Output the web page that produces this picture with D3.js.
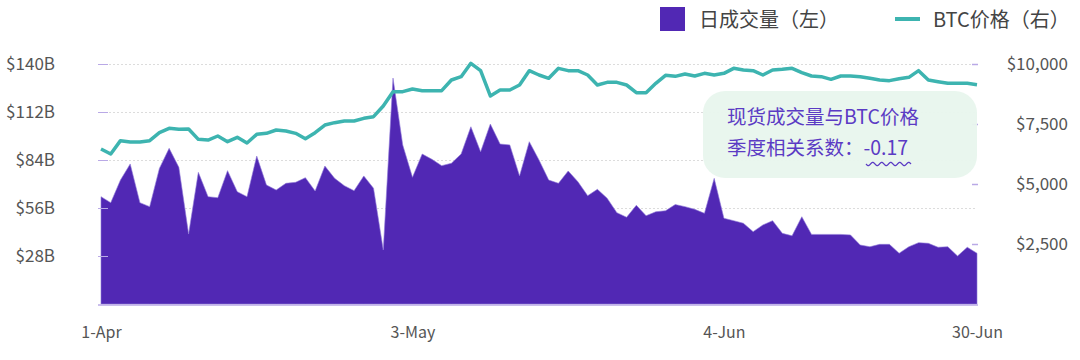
<!DOCTYPE html>
<html>
<head>
<meta charset="utf-8">
<script src="https://cdn.jsdelivr.net/npm/d3@7"></script>
<style>
  body{margin:0;background:#fff;font-family:"Noto Sans CJK SC","Noto Sans",sans-serif;}
  svg text{font-family:"Noto Sans CJK SC","Noto Sans",sans-serif;}
</style>
</head>
<body>
<script>
// daily spot volume, $B (Apr 1 - Jun 30)
const volume=[62.6,59.1,72.3,81.7,59.1,56.8,79.1,90.8,79.7,40.8,
  76.8,62.6,62.0,77.8,65.5,62.6,86.3,69.4,66.5,70.4,
  71.0,73.7,65.9,80.5,73.3,69.0,66.1,74.7,67.5,31.5,
  131.8,92.8,73.9,87.5,84.4,80.7,82.1,87.5,103.4,88.8,
  105.0,93.3,92.8,74.7,94.7,84.0,72.3,70.4,77.6,71.3,
  63.2,66.9,61.7,53.3,50.6,57.6,51.5,53.8,54.4,58.0,
  56.8,55.2,52.9,73.3,50.0,48.6,47.1,42.2,46.1,48.6,
  41.2,39.8,50.9,40.6,40.6,40.6,40.6,40.3,34.4,33.4,
  34.8,34.8,29.6,33.4,35.8,35.4,33.1,33.4,28.0,33.1,29.6]
// BTC price, $
const price=[6458,6250,6806,6750,6750,6806,7139,7319,7278,7292,
  6861,6833,7000,6764,6944,6708,7069,7111,7250,7208,
  7111,6889,7139,7458,7556,7625,7625,7736,7806,8250,
  8847,8847,8958,8889,8889,8889,9333,9472,10028,9722,
  8667,8917,8917,9125,9722,9542,9403,9819,9722,9722,
  9542,9125,9236,9236,9125,8806,8806,9194,9528,9486,
  9583,9500,9611,9542,9611,9819,9750,9722,9542,9750,
  9778,9819,9639,9500,9472,9361,9500,9500,9472,9403,
  9333,9306,9389,9444,9722,9333,9264,9194,9194,9194,9139]
const dates=d3.timeDay.range(new Date(2020,3,1),new Date(2020,6,1))
const xTicks=[new Date(2020,3,1),new Date(2020,4,3),new Date(2020,5,4),new Date(2020,5,30)]
const leftTicks=[28,56,84,112,140]
const rightTicks=[2500,5000,7500,10000]

const w=1080,h=360
const purple="#5128b4",teal="#3db4b0",tickCol="#b9a9e6"

const svg=d3.select("body").append("svg").attr("width",w).attr("height",h)

const x=d3.scaleTime().domain([dates[0],dates[dates.length-1]]).range([101,977])
const yL=d3.scaleLinear().domain([0,140]).range([304,64])
const yR=d3.scaleLinear().domain([0,10000]).range([304,64])

// grid
svg.append("g").selectAll("line").data(leftTicks).enter().append("line")
  .attr("x1",101).attr("x2",977)
  .attr("y1",d=>yL(d)+0.5).attr("y2",d=>yL(d)+0.5)
  .attr("stroke","#dcdcdc").attr("stroke-dasharray","2,2")

// area
const area=d3.area().x((d,i)=>x(dates[i])).y0(yL(0)).y1(d=>yL(d))
svg.append("path").datum(volume).attr("d",area).attr("fill",purple)
  .attr("stroke","#8f78d8").attr("stroke-width",0.6)

// baseline
svg.append("line").attr("x1",98).attr("x2",978).attr("y1",305).attr("y2",305)
  .attr("stroke",tickCol).attr("stroke-width",1.5)

// left axis
const gL=svg.append("g").attr("transform","translate(98,0)")
  .call(d3.axisLeft(yL).tickValues(leftTicks).tickFormat(d=>"$"+d+"B").tickSizeInner(-10).tickSizeOuter(0).tickPadding(43))
gL.select(".domain").remove()
gL.selectAll("line").attr("stroke",tickCol)
gL.selectAll("text").attr("fill","#555").style("font-size","17px")

// right axis
const gR=svg.append("g").attr("transform","translate(978,0)")
  .call(d3.axisRight(yR).tickValues(rightTicks).tickFormat(d3.format("$,")).tickSizeInner(-6).tickSizeOuter(0).tickPadding(90))
gR.select(".domain").remove()
gR.selectAll("line").attr("stroke",tickCol).attr("stroke-width",1.5)
gR.selectAll("text").attr("fill","#555").attr("text-anchor","end").style("font-size","17px")

// x axis
const gX=svg.append("g").attr("transform","translate(0,305)")
  .call(d3.axisBottom(x).tickValues(xTicks).tickFormat(d3.timeFormat("%-d-%b")).tickSize(0).tickPadding(22))
gX.select(".domain").remove()
gX.selectAll("text").attr("fill","#555").style("font-size","16px")

// annotation box
svg.append("rect").attr("x",703).attr("y",91).attr("width",274).attr("height",87)
  .attr("rx",22).attr("fill","#e8f5ed").attr("fill-opacity",0.95)

// price line
const line=d3.line().x((d,i)=>x(dates[i])).y(d=>yR(d))
svg.append("path").datum(price).attr("d",line).attr("fill","none")
  .attr("stroke",teal).attr("stroke-width",3.5).attr("stroke-linejoin","round")

const ann=svg.append("g").attr("fill","#5b3bc4").style("font-size","19.5px")
ann.append("text").attr("x",727).attr("y",124).text("现货成交量与BTC价格")
ann.append("text").attr("x",727).attr("y",155).text("季度相关系数：-0.17")
// wavy underline
const wave=d3.range(0,45.5,0.5).map(t=>[866+t,164+1.6*Math.sin(t/45*5*2*Math.PI)])
svg.append("path").attr("d",d3.line()(wave)).attr("fill","none").attr("stroke","#5b3bc4").attr("stroke-width",1.2)

// legend
const lg=svg.append("g")
lg.append("rect").attr("x",660).attr("y",7).attr("width",25).attr("height",24).attr("fill",purple)
lg.append("text").attr("x",699).attr("y",27).attr("fill","#444").style("font-size","20px").text("日成交量（左）")
lg.append("line").attr("x1",895).attr("x2",920).attr("y1",19).attr("y2",19).attr("stroke",teal).attr("stroke-width",4)
lg.append("text").attr("x",933).attr("y",27).attr("fill","#444").style("font-size","20px").text("BTC价格（右）")
</script>
</body>
</html>
